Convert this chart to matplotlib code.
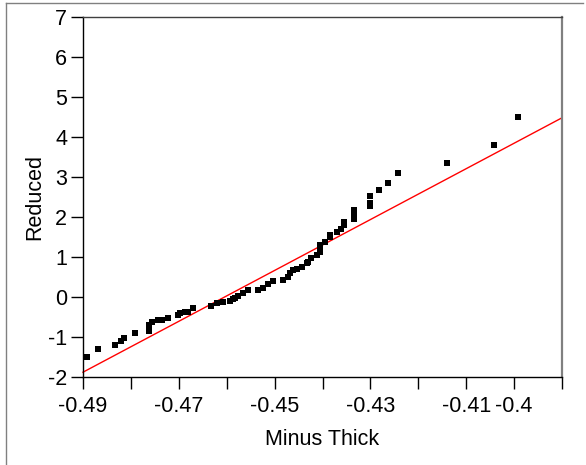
import matplotlib
matplotlib.use("Agg")
import matplotlib.pyplot as plt
from matplotlib.lines import Line2D
from matplotlib.ticker import FixedLocator, FixedFormatter

plt.rcParams['font.family'] = ['Liberation Sans', 'DejaVu Sans']
plt.rcParams['axes.unicode_minus'] = False

# ── Data ─────────────────────────────────────────────────────────────────────
minus_thick = [
    -0.4891, -0.4869, -0.4833, -0.4821, -0.4814, -0.4791, -0.4762, -0.4762,
    -0.4762, -0.4755, -0.4743, -0.4736, -0.4722, -0.4701, -0.4697, -0.4687,
    -0.4680, -0.4670, -0.4633, -0.4621, -0.4607, -0.4593, -0.4586, -0.4583,
    -0.4576, -0.4565, -0.4555, -0.4534, -0.4524, -0.4513, -0.4504, -0.4483,
    -0.4471, -0.4468, -0.4461, -0.4454, -0.4443, -0.4433, -0.4430, -0.4423,
    -0.4412, -0.4405, -0.4405, -0.4405, -0.4395, -0.4384, -0.4384, -0.4370,
    -0.4362, -0.4355, -0.4355, -0.4334, -0.4334, -0.4334, -0.4301, -0.4301,
    -0.4301, -0.4283, -0.4263, -0.4242, -0.4141, -0.4041, -0.3992,
]
reduced = [
    -1.50, -1.30, -1.21, -1.11, -1.03, -0.91, -0.85, -0.78,
    -0.70, -0.62, -0.57, -0.57, -0.52, -0.45, -0.41, -0.37,
    -0.37, -0.28, -0.22, -0.16, -0.13, -0.09, -0.05, -0.03,
    0.02, 0.09, 0.17, 0.17, 0.23, 0.32, 0.41, 0.42,
    0.51, 0.59, 0.67, 0.69, 0.76, 0.84, 0.88, 0.97,
    1.05, 1.13, 1.21, 1.30, 1.38, 1.50, 1.55, 1.63,
    1.71, 1.80, 1.88, 1.96, 2.02, 2.17, 2.28, 2.35,
    2.52, 2.67, 2.86, 3.11, 3.36, 3.81, 4.50,
]

fit_x = [-0.49, -0.39]
fit_y = [-1.88, 4.48]

x_ticks = [-0.49, -0.48, -0.47, -0.46, -0.45, -0.44, -0.43, -0.42, -0.41, -0.40, -0.39]
x_labels = ['-0.49', '', '-0.47', '', '-0.45', '', '-0.43', '', '-0.41', '-0.4', '']
y_ticks = [-2, -1, 0, 1, 2, 3, 4, 5, 6, 7]

FS = 15.5

fig = plt.figure(figsize=(5.86, 4.65), dpi=100)
ax = fig.add_axes([83 / 586, 1 - 377 / 465, 479 / 586, 360 / 465])

ax.plot(fit_x, fit_y, color='red', lw=1, zorder=2, clip_on=False)
ax.plot(minus_thick, reduced, 's', color='black', ms=3.8, mew=0, zorder=3)

ax.set_xlim(-0.49, -0.39)
ax.set_ylim(-2, 7)
ax.xaxis.set_major_locator(FixedLocator(x_ticks))
ax.xaxis.set_major_formatter(FixedFormatter(x_labels))
ax.set_yticks(y_ticks)

ax.tick_params(axis='both', direction='out', length=8.5, width=1,
               color='black', labelsize=FS)
ax.tick_params(axis='x', pad=5)
ax.tick_params(axis='y', pad=3)

for side in ('left', 'bottom'):
    ax.spines[side].set_color('black')
    ax.spines[side].set_linewidth(1)
ax.spines['top'].set_color('#404040')
ax.spines['top'].set_linewidth(1)
ax.spines['right'].set_color('#808080')
ax.spines['right'].set_linewidth(1.6)

ax.set_xlabel('Minus Thick', fontsize=FS, labelpad=9)
ax.set_ylabel('Reduced', fontsize=FS, labelpad=2)

# partial outer frame (top and left edges of a bigger panel)
fig.add_artist(Line2D([6 / 586, 6 / 586], [0, 1 - 3 / 465],
                      transform=fig.transFigure, color='#808080', lw=1))
fig.add_artist(Line2D([6 / 586, 583 / 586], [1 - 3 / 465, 1 - 3 / 465],
                      transform=fig.transFigure, color='#808080', lw=1))

fig.savefig('out.png', dpi=100)
